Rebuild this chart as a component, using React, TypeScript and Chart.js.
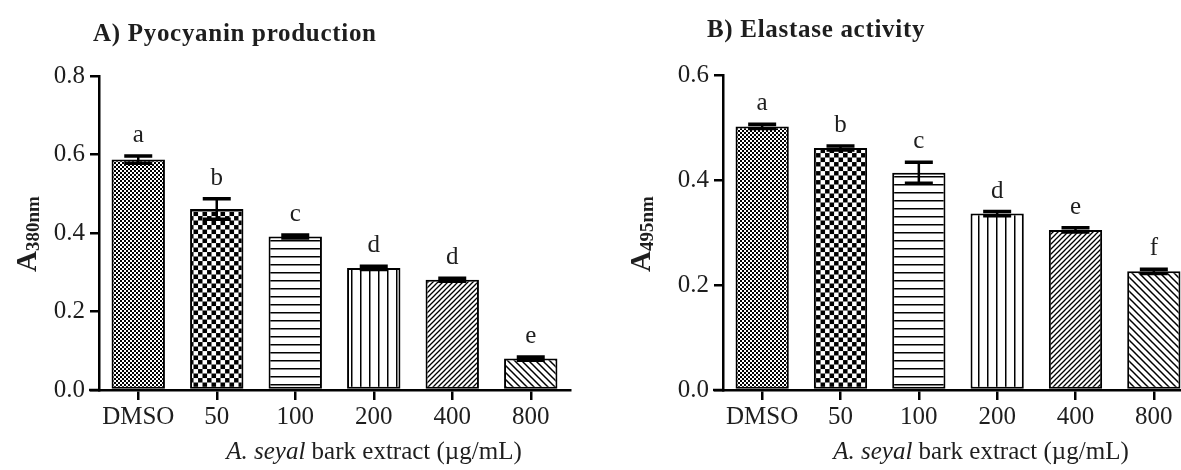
import React, { useEffect, useRef } from 'react';
import { Chart, registerables } from 'chart.js';

Chart.register(...registerables);

const categories = ['DMSO', '50', '100', '200', '400', '800'];

const pyoMeans = [0.587, 0.461, 0.391, 0.311, 0.281, 0.080];
const pyoErrors = [0.009, 0.026, 0.004, 0.004, 0.004, 0.004];
const pyoLetters = ['a', 'b', 'c', 'd', 'd', 'e'];
const pyoTicks = [0, 0.2, 0.4, 0.6, 0.8];

const elaMeans = [0.502, 0.461, 0.414, 0.336, 0.305, 0.226];
const elaErrors = [0.004, 0.004, 0.02, 0.004, 0.004, 0.004];
const elaLetters = ['a', 'b', 'c', 'd', 'e', 'f'];
const elaTicks = [0, 0.2, 0.4, 0.6];

const patternKinds = ['fineChecker', 'checker', 'hlines', 'vlines', 'diagUp', 'diagDown'];

const SERIF = '"Liberation Serif", "Times New Roman", serif';
const INK = '#1e1e1e';

type PanelCfg = {
  title: string;
  subscript: string;
  means: number[];
  errors: number[];
  letters: string[];
  ticks: number[];
  canvasLeft: number;
  canvasWidth: number;
  padTop: number;
  padRight: number;
  yWidth: number;
  titleX: number;
  titleBaseline: number;
  yTitleX: number;
  yTitleCenterY: number;
  xTitleCenter: number;
};

const panelA: PanelCfg = {
  title: 'A) Pyocyanin production',
  subscript: '380nm',
  means: pyoMeans,
  errors: pyoErrors,
  letters: pyoLetters,
  ticks: pyoTicks,
  canvasLeft: 0,
  canvasWidth: 600,
  padTop: 76,
  padRight: 30,
  yWidth: 99,
  titleX: 93,
  titleBaseline: 41,
  yTitleX: 36,
  yTitleCenterY: 234,
  xTitleCenter: 374,
};

const panelB: PanelCfg = {
  title: 'B) Elastase activity',
  subscript: '495nm',
  means: elaMeans,
  errors: elaErrors,
  letters: elaLetters,
  ticks: elaTicks,
  canvasLeft: 600,
  canvasWidth: 600,
  padTop: 75,
  padRight: 7,
  yWidth: 123,
  titleX: 107,
  titleBaseline: 37,
  yTitleX: 50,
  yTitleCenterY: 234,
  xTitleCenter: 381,
};

function makePattern(kind: string): CanvasPattern | string {
  const c = document.createElement('canvas');
  const g = c.getContext('2d');
  if (!g) return '#888';
  let s = 8;
  if (kind === 'fineChecker') s = 4;
  if (kind === 'checker') s = 8;
  if (kind === 'hlines') s = 8;
  if (kind === 'vlines') s = 9;
  if (kind === 'diagUp') s = 5;
  if (kind === 'diagDown') s = 7;
  c.width = s;
  c.height = s;
  g.fillStyle = '#fff';
  g.fillRect(0, 0, s, s);
  g.fillStyle = '#000';
  g.strokeStyle = '#000';
  if (kind === 'fineChecker') {
    g.fillRect(0, 0, 2, 2);
    g.fillRect(2, 2, 2, 2);
  } else if (kind === 'checker') {
    g.fillRect(0, 0, 4, 4);
    g.fillRect(4, 4, 4, 4);
  } else if (kind === 'hlines') {
    g.fillRect(0, 0, s, 1.5);
  } else if (kind === 'vlines') {
    g.fillRect(0, 0, 1.5, s);
  } else if (kind === 'diagUp') {
    g.lineWidth = 1.3;
    g.beginPath();
    g.moveTo(-1, s + 1);
    g.lineTo(s + 1, -1);
    g.moveTo(-1, 1);
    g.lineTo(1, -1);
    g.moveTo(s - 1, s + 1);
    g.lineTo(s + 1, s - 1);
    g.stroke();
  } else if (kind === 'diagDown') {
    g.lineWidth = 1.5;
    g.beginPath();
    g.moveTo(-1, -1);
    g.lineTo(s + 1, s + 1);
    g.moveTo(-1, s - 1);
    g.lineTo(1, s + 1);
    g.moveTo(s - 1, -1);
    g.lineTo(s + 1, 1);
    g.stroke();
  }
  const p = g.createPattern(c, 'repeat');
  if (p && kind === 'checker' && typeof DOMMatrix !== 'undefined') {
    p.setTransform(new DOMMatrix().scale(1.125, 1.125));
  }
  return p || '#888';
}

function makeAnnotations(cfg: PanelCfg) {
  return {
    id: 'annotations',
    afterDatasetsDraw(chart: any) {
      const ctx: CanvasRenderingContext2D = chart.ctx;
      const xs = chart.scales.x;
      const ys = chart.scales.y;
      ctx.save();
      ctx.strokeStyle = '#000';
      ctx.fillStyle = INK;
      cfg.means.forEach((m, i) => {
        const cx = xs.getPixelForValue(i);
        const top = ys.getPixelForValue(m + cfg.errors[i]);
        const bot = ys.getPixelForValue(m - cfg.errors[i]);
        ctx.lineWidth = 2.5;
        ctx.beginPath();
        ctx.moveTo(cx, top);
        ctx.lineTo(cx, bot);
        ctx.stroke();
        ctx.lineWidth = 3.5;
        ctx.beginPath();
        ctx.moveTo(cx - 14, top);
        ctx.lineTo(cx + 14, top);
        ctx.moveTo(cx - 14, bot);
        ctx.lineTo(cx + 14, bot);
        ctx.stroke();
        ctx.font = `25px ${SERIF}`;
        ctx.textAlign = 'center';
        ctx.textBaseline = 'alphabetic';
        ctx.fillText(cfg.letters[i], cx, top - 14);
      });
      ctx.restore();
    },
    afterDraw(chart: any) {
      const ctx: CanvasRenderingContext2D = chart.ctx;
      const area = chart.chartArea;
      const xs = chart.scales.x;
      ctx.save();
      // x-axis overhang to the left of the y axis
      ctx.strokeStyle = '#000';
      ctx.lineWidth = 2.5;
      ctx.beginPath();
      ctx.moveTo(area.left - 10, xs.top);
      ctx.lineTo(area.left + 1, xs.top);
      ctx.stroke();

      ctx.fillStyle = INK;
      // panel title
      ctx.font = `bold 25px ${SERIF}`;
      (ctx as any).letterSpacing = '0.7px';
      ctx.textAlign = 'left';
      ctx.textBaseline = 'alphabetic';
      ctx.fillText(cfg.title, cfg.titleX, cfg.titleBaseline);
      (ctx as any).letterSpacing = '0px';

      // y-axis title with subscript
      ctx.font = `bold 29px ${SERIF}`;
      const wA = ctx.measureText('A').width;
      ctx.font = `bold 19px ${SERIF}`;
      const wS = ctx.measureText(cfg.subscript).width;
      const total = wA + wS;
      ctx.save();
      ctx.translate(cfg.yTitleX, cfg.yTitleCenterY);
      ctx.rotate(-Math.PI / 2);
      ctx.textAlign = 'left';
      ctx.font = `bold 29px ${SERIF}`;
      ctx.fillText('A', -total / 2, 0);
      ctx.font = `bold 19px ${SERIF}`;
      ctx.fillText(cfg.subscript, -total / 2 + wA, 3);
      ctx.restore();

      // x-axis title, italic species name
      const part1 = 'A. seyal';
      const part2 = ' bark extract (µg/mL)';
      ctx.font = `italic 25px ${SERIF}`;
      const w1 = ctx.measureText(part1).width;
      ctx.font = `25px ${SERIF}`;
      const w2 = ctx.measureText(part2).width;
      const start = cfg.xTitleCenter - (w1 + w2) / 2;
      ctx.textAlign = 'left';
      ctx.font = `italic 25px ${SERIF}`;
      ctx.fillText(part1, start, 459);
      ctx.font = `25px ${SERIF}`;
      ctx.fillText(part2, start + w1, 459);
      ctx.restore();
    },
  };
}

function Panel({ cfg }: { cfg: PanelCfg }) {
  const ref = useRef<HTMLCanvasElement>(null);
  useEffect(() => {
    const canvas = ref.current;
    if (!canvas) return;
    const patterns = patternKinds.map(makePattern);
    const tickFont = { family: SERIF, size: 25 };
    const chart = new Chart(canvas, {
      type: 'bar',
      data: {
        labels: categories,
        datasets: [
          {
            data: cfg.means,
            backgroundColor: patterns as any,
            borderColor: '#000',
            borderWidth: 2,
            borderSkipped: false,
            barPercentage: 0.68,
            categoryPercentage: 1,
          },
        ],
      },
      options: {
        responsive: false,
        animation: false,
        devicePixelRatio: 1,
        layout: { padding: { left: 0, top: cfg.padTop, right: cfg.padRight, bottom: 0 } },
        plugins: {
          legend: { display: false },
          tooltip: { enabled: false },
          title: { display: false },
        },
        scales: {
          x: {
            type: 'category',
            offset: true,
            grid: {
              offset: false,
              drawOnChartArea: false,
              drawTicks: true,
              tickLength: 10,
              tickWidth: 2.5,
              lineWidth: 2.5,
              tickColor: '#000',
              color: '#000',
            },
            border: { display: true, color: '#000', width: 2.5 },
            ticks: { font: tickFont, color: INK, padding: 2, maxRotation: 0, autoSkip: false },
            afterFit: (s: any) => {
              s.height = 80;
            },
          },
          y: {
            min: 0,
            max: cfg.ticks[cfg.ticks.length - 1],
            grid: {
              drawOnChartArea: false,
              drawTicks: true,
              tickLength: 9,
              tickWidth: 2.5,
              lineWidth: 2.5,
              tickColor: '#000',
              color: '#000',
            },
            border: { display: true, color: '#000', width: 2.5 },
            ticks: {
              font: tickFont,
              color: INK,
              padding: 5,
              callback: (v: any) => Number(v).toFixed(1),
            },
            afterBuildTicks: (s: any) => {
              s.ticks = cfg.ticks.map((v) => ({ value: v }));
            },
            afterFit: (s: any) => {
              s.width = cfg.yWidth;
            },
          },
        },
      },
      plugins: [makeAnnotations(cfg)],
    } as any);
    return () => chart.destroy();
  }, [cfg]);
  return (
    <canvas
      ref={ref}
      width={cfg.canvasWidth}
      height={470}
      style={{ position: 'absolute', left: cfg.canvasLeft, top: 0, width: cfg.canvasWidth, height: 470 }}
    />
  );
}

export default function App() {
  return (
    <div
      style={{
        position: 'absolute',
        left: 0,
        top: 0,
        width: 1181,
        height: 470,
        overflow: 'hidden',
        background: '#fff',
      }}
    >
      <Panel cfg={panelA} />
      <Panel cfg={panelB} />
    </div>
  );
}
